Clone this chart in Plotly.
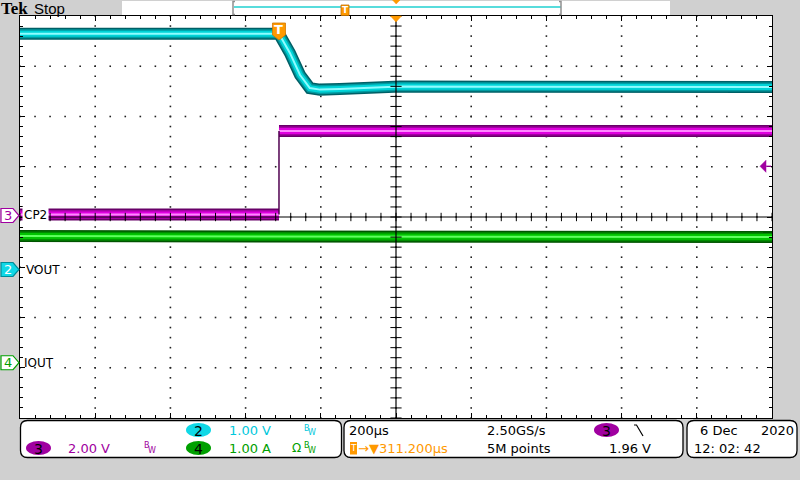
import numpy as np
import plotly.graph_objects as go

# ---------------- data ----------------
time_per_div_us = 200
horiz_delay_us = 311.2          # screen centre relative to trigger
n_xdiv, n_ydiv = 10, 8

ch2_scale_v = 1.00              # VOUT
ch3_scale_v = 2.00              # CP2
ch4_scale_a = 1.00              # IOUT
ch2_pos_div = -1.045
ch3_pos_div = 0.03
ch4_pos_div = -2.90
trig_level_v = 1.96

t_vout_us = [-688.8, 0, 29, 56, 82, 109, 162, 322, 1311.2]
vout_v = [4.69, 4.69, 4.31, 3.87, 3.61, 3.58, 3.59, 3.64, 3.63]

t_cp2_us = [-688.8, 0, 0, 1311.2]
cp2_v = [0.04, 0.04, 3.36, 3.36]

t_iout_us = [-688.8, 0, 1311.2]
iout_a = [2.52, 2.51, 2.50]

# ---------------- layout geometry ----------------
W, H = 800, 480
L, R, T, B = 20, 772, 16, 418
PW, PH = R - L, B - T


def PX(x):
    return (x - L) / PW


def PY(y):
    return (B - y) / PH


def to_div(vals, scale, pos):
    return [v / scale + pos for v in vals]


BG = "#d0d0d0"
CYAN_T = "#00c8dc"
PURP = "#a000a0"
GREEN = "#00a000"
ORANGE = "#ff9900"
FONT = "DejaVu Sans"

x_lo = horiz_delay_us - n_xdiv / 2 * time_per_div_us
x_hi = horiz_delay_us + n_xdiv / 2 * time_per_div_us

fig = go.Figure()

# graticule dots (on every division line, one dot per minor division)
major_t = horiz_delay_us + np.arange(-n_xdiv // 2 + 1, n_xdiv // 2) * time_per_div_us
major_y = np.arange(-n_ydiv // 2 + 1, n_ydiv // 2).astype(float)
minor_t_all = horiz_delay_us + np.arange(-25, 26) * time_per_div_us / 5
minor_y_all = np.arange(-20, 21) * 0.2
gx = np.concatenate([np.repeat(major_t, len(minor_y_all)), np.tile(minor_t_all, len(major_y))])
gy = np.concatenate([np.tile(minor_y_all, len(major_t)), np.repeat(major_y, len(minor_t_all))])
fig.add_trace(go.Scatter(x=gx, y=gy, mode="markers",
                         marker=dict(symbol="square", size=1.6, color="#202020",
                                     line=dict(width=0)),
                         hoverinfo="skip", showlegend=False))


def band(t, y, layers):
    for w, c in layers:
        fig.add_trace(go.Scatter(x=t, y=y, mode="lines",
                                 line=dict(color=c, width=w),
                                 hoverinfo="skip", showlegend=False))


cyan_layers = [(12, "#005f66"), (9, "#009aa0"), (6, "#00d4d8"), (2, "#8ffcff")]
mag_layers = [(12, "#680068"), (9, "#a400a4"), (6, "#e000e0"), (2, "#ff88ff")]
grn_layers = [(12, "#005400"), (9, "#008c00"), (6, "#00c400"), (2, "#60ff60")]

# CH2 VOUT
band(t_vout_us, to_div(vout_v, ch2_scale_v, ch2_pos_div), cyan_layers)
# CH3 CP2: low part, edge, high part
cp2_div = to_div(cp2_v, ch3_scale_v, ch3_pos_div)
band(t_cp2_us[:2], cp2_div[:2], mag_layers)
band(t_cp2_us[2:], cp2_div[2:], mag_layers)
fig.add_trace(go.Scatter(x=t_cp2_us[1:3], y=cp2_div[1:3], mode="lines",
                         line=dict(color="#500050", width=1.5),
                         hoverinfo="skip", showlegend=False))
# CH4 IOUT
band(t_iout_us, to_div(iout_a, ch4_scale_a, ch4_pos_div), grn_layers)

# centre crosshair tick marks
fig.add_trace(go.Scatter(x=minor_t_all, y=np.zeros_like(minor_t_all), mode="markers",
                         marker=dict(symbol="line-ns", size=6,
                                     line=dict(color="black", width=1)),
                         hoverinfo="skip", showlegend=False))
fig.add_trace(go.Scatter(x=np.full_like(minor_y_all, horiz_delay_us), y=minor_y_all,
                         mode="markers",
                         marker=dict(symbol="line-ew", size=8,
                                     line=dict(color="black", width=1)),
                         hoverinfo="skip", showlegend=False))

shapes = []
ann = []


def pline(pts):
    return "M" + " L".join(f"{PX(x):.5f},{PY(y):.5f}" for x, y in pts) + " Z"


def rrect(x0, y0, x1, y1, r):
    p = lambda x, y: f"{PX(x):.5f},{PY(y):.5f}"
    return (f"M{p(x0 + r, y0)} L{p(x1 - r, y0)} Q{p(x1, y0)} {p(x1, y0 + r)} "
            f"L{p(x1, y1 - r)} Q{p(x1, y1)} {p(x1 - r, y1)} L{p(x0 + r, y1)} "
            f"Q{p(x0, y1)} {p(x0, y1 - r)} L{p(x0, y0 + r)} Q{p(x0, y0)} {p(x0 + r, y0)} Z")


def txt(x, y, s, color="black", size=13, anchor="left", family=FONT, bg=None):
    a = dict(x=PX(x), y=PY(y), xref="paper", yref="paper", text=s,
             showarrow=False, xanchor=anchor, yanchor="middle",
             font=dict(family=family, size=size, color=color), borderpad=0)
    if bg:
        a["bgcolor"] = bg
    ann.append(a)


# centre crosshair
shapes.append(dict(type="line", xref="x", yref="paper", x0=horiz_delay_us,
                   x1=horiz_delay_us, y0=0, y1=1, line=dict(color="black", width=1.2)))
shapes.append(dict(type="line", xref="paper", yref="y", x0=0, x1=1, y0=0, y1=0,
                   line=dict(color="black", width=1.2)))

# ---- top status bar ----
shapes.append(dict(type="rect", xref="paper", yref="paper", x0=PX(122), x1=PX(670),
                   y0=PY(15), y1=PY(1), fillcolor="white", line=dict(width=0), layer="below"))
shapes.append(dict(type="line", xref="paper", yref="paper", x0=PX(234), x1=PX(561),
                   y0=PY(7), y1=PY(7), line=dict(color="#20d0d0", width=1.5)))
for bx, d in [(233, 1), (561, -1)]:
    shapes.append(dict(type="path", xref="paper", yref="paper",
                       path=f"M{PX(bx + 2 * d)},{PY(1.5)} L{PX(bx)},{PY(1.5)} L{PX(bx)},{PY(14.5)} L{PX(bx + 2 * d)},{PY(14.5)}",
                       line=dict(color="#909090", width=1.5)))
shapes.append(dict(type="rect", xref="paper", yref="paper", x0=PX(341), x1=PX(349),
                   y0=PY(15.5), y1=PY(5), fillcolor=ORANGE, line=dict(color="#c07000", width=0.8)))
txt(345, 10.5, "<b>T</b>", "white", 9, anchor="center")
shapes.append(dict(type="path", xref="paper", yref="paper",
                   path=pline([(392.5, 0), (400, 0), (396.2, 4)]),
                   fillcolor=ORANGE, line=dict(color=ORANGE, width=0.5)))
txt(0, 8, "<b>Tek</b>", "black", 17, family="Liberation Serif")
txt(33, 8, "Stop", "black", 15, family="Liberation Sans")

# trigger position marker on top of graticule
dx = 5.5 * (x_hi - x_lo) / PW
shapes.append(dict(type="path", xref="x", yref="paper",
                   path=f"M{horiz_delay_us - dx},{PY(16)} L{horiz_delay_us + dx},{PY(16)} L{horiz_delay_us},{PY(22)} Z",
                   fillcolor=ORANGE, line=dict(color=ORANGE, width=0.5)))
# 'T' trigger point marker
d6 = 6.5 * (x_hi - x_lo) / PW
shapes.append(dict(type="path", xref="x", yref="paper",
                   path=(f"M{-d6},{PY(23)} L{d6},{PY(23)} L{d6},{PY(35)} "
                         f"L0,{PY(40)} L{-d6},{PY(35)} Z"),
                   fillcolor=ORANGE, line=dict(color="#d07800", width=0.8)))
ann.append(dict(x=0, y=PY(30), xref="x", yref="paper", text="<b>T</b>",
                showarrow=False, xanchor="center", yanchor="middle", borderpad=0,
                font=dict(family=FONT, size=13, color="white")))

# trigger level arrow (right edge)
lvl = trig_level_v / ch3_scale_v + ch3_pos_div
shapes.append(dict(type="path", xref="paper", yref="y",
                   path=f"M{PX(760)},{lvl} L{PX(766)},{lvl + 0.12} L{PX(766)},{lvl - 0.12} Z",
                   fillcolor=PURP, line=dict(color=PURP, width=0.5)))
shapes.append(dict(type="line", xref="paper", yref="y", x0=PX(765), x1=PX(771),
                   y0=lvl, y1=lvl, line=dict(color=PURP, width=1.2)))

# channel ground markers + labels
hh = 7 / PH * n_ydiv
for pos, num, fill, edge, tc, lab, lx in [
        (ch3_pos_div, "3", "white", PURP, PURP, "CP2", 22),
        (ch2_pos_div, "2", "#10d8e6", "#008c98", "white", "VOUT", 24),
        (ch4_pos_div, "4", "white", GREEN, GREEN, "IOUT", 22)]:
    shapes.append(dict(type="path", xref="paper", yref="y",
                       path=(f"M{PX(1)},{pos + hh} L{PX(13)},{pos + hh} L{PX(19)},{pos} "
                             f"L{PX(13)},{pos - hh} L{PX(1)},{pos - hh} Z"),
                       fillcolor=fill, line=dict(color=edge, width=1.2)))
    ann.append(dict(x=PX(8), y=pos, xref="paper", yref="y", text=num, showarrow=False,
                    font=dict(family=FONT, size=13, color=tc), xanchor="center", yanchor="middle"))
    ann.append(dict(x=PX(lx), y=pos, xref="paper", yref="y", text=lab, showarrow=False,
                    font=dict(family=FONT, size=12, color="black"), xanchor="left",
                    yanchor="middle", bgcolor="white" if lab == "CP2" else None, borderpad=1))

# ---- bottom info boxes ----
for x0, x1 in [(20.5, 341.5), (344, 683), (687, 797)]:
    shapes.append(dict(type="path", xref="paper", yref="paper",
                       path=rrect(x0, 420.5, x1, 457.5, 7),
                       fillcolor="white", line=dict(color="black", width=1.3)))


def pill(x0, x1, y0, y1, fill, num):
    shapes.append(dict(type="circle", xref="paper", yref="paper", x0=PX(x0), x1=PX(x1),
                       y0=PY(y1), y1=PY(y0), fillcolor=fill, line=dict(width=0)))
    txt((x0 + x1) / 2, (y0 + y1) / 2 + 0.5, num, "black", 14, anchor="center")


def bw(x, y, color):
    txt(x, y - 2, "B", color, 8)
    txt(x + 3.5, y + 2, "W", color, 8)


r1, r2 = 430, 448
pill(186, 211, 423, 437, "#10d8e6", "2")
txt(228, r1, "1.00 V", CYAN_T)
bw(303, r1, CYAN_T)
pill(26, 51, 441, 455, PURP, "3")
txt(67, r2, "2.00 V", PURP)
bw(143, r2, PURP)
pill(186, 211, 441, 455, GREEN, "4")
txt(228, r2, "1.00 A", GREEN)
txt(291, r2, "Ω", GREEN, 12)
bw(303, r2, GREEN)

txt(348, r1, "200µs")
txt(486, r1, "2.50GS/s")
pill(594, 619, 423, 437, PURP, "3")
shapes.append(dict(type="path", xref="paper", yref="paper",
                   path=f"M{PX(634)},{PY(425)} L{PX(636.5)},{PY(425)} L{PX(643)},{PY(436)}",
                   line=dict(color="black", width=1.2)))
shapes.append(dict(type="rect", xref="paper", yref="paper", x0=PX(350), x1=PX(357),
                   y0=PY(454.5), y1=PY(442), fillcolor=ORANGE, line=dict(width=0)))
txt(353.5, r2, "T", "white", 9, anchor="center")
txt(357, r2, "→▼311.200µs", ORANGE)
txt(486, r2, "5M points")
txt(608, r2, "1.96 V")
txt(699, r1, "6 Dec")
txt(760, r1, "2020")
txt(693, r2, "12: 02: 42")

axis_common = dict(showline=True, mirror="ticks", linecolor="black", linewidth=1.2,
                   showticklabels=False, ticks="inside", tickcolor="black",
                   ticklen=5, tickwidth=1, zeroline=False, showgrid=False,
                   fixedrange=True)

fig.update_layout(
    width=W, height=H,
    margin=dict(l=L, r=W - R, t=T, b=H - B, pad=0),
    paper_bgcolor=BG, plot_bgcolor="white",
    showlegend=False, hovermode=False,
    shapes=shapes, annotations=ann,
    xaxis=dict(range=[x_lo, x_hi], tick0=horiz_delay_us, dtick=time_per_div_us,
               minor=dict(dtick=time_per_div_us / 5, tick0=horiz_delay_us, ticks="inside",
                          ticklen=3, tickwidth=1, tickcolor="black", showgrid=False),
               **axis_common),
    yaxis=dict(range=[-n_ydiv / 2, n_ydiv / 2], tick0=0, dtick=1,
               minor=dict(dtick=0.2, tick0=0, ticks="inside", ticklen=3, tickwidth=1,
                          tickcolor="black", showgrid=False),
               **axis_common),
)

fig.write_html("out.html", config={"displayModeBar": False},
               post_script="document.body.style.margin='0px';document.body.style.padding='0px';")
